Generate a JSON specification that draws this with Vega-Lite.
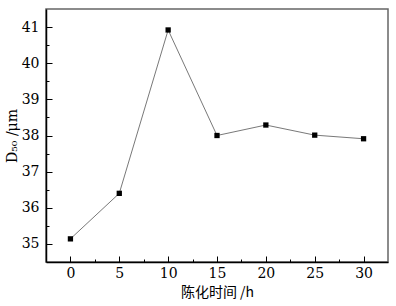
{
  "$schema": "https://vega.github.io/schema/vega-lite/v6.json",
  "width": 342,
  "height": 253,
  "autosize": "none",
  "padding": {"left": 46, "top": 9, "right": 8, "bottom": 44},
  "background": "white",
  "config": {
    "view": {"stroke": "#666", "strokeWidth": 1.5},
    "axis": {"grid": false, "domainColor": "black", "domainWidth": 1.5, "tickColor": "black", "labelColor": "black", "titleColor": "black"}
  },
  "data": {
    "values": [
      {"t": 0, "d": 35.14},
      {"t": 5, "d": 36.4},
      {"t": 10, "d": 40.92},
      {"t": 15, "d": 38.0},
      {"t": 20, "d": 38.29},
      {"t": 25, "d": 38.01},
      {"t": 30, "d": 37.91}
    ]
  },
  "encoding": {
    "x": {
      "field": "t", "type": "quantitative",
      "scale": {"domain": [-2.5, 32.5], "nice": false, "zero": false},
      "axis": {
        "values": [0, 2.5, 5, 7.5, 10, 12.5, 15, 17.5, 20, 22.5, 25, 27.5, 30],
        "labelExpr": "datum.value % 5 === 0 ? format(datum.value, 'd') : ''",
        "labelFont": "DejaVu Serif",
        "labelFontSize": 14,
        "tickSize": {"condition": {"test": "datum.value % 5 === 0", "value": -6}, "value": -3},
        "labelPadding": 10,
        "title": "陈化时间 /h",
        "titleFont": "Noto Sans CJK SC",
        "titleFontSize": 14,
        "titleFontWeight": "normal",
        "titlePadding": 5
      }
    },
    "y": {
      "field": "d", "type": "quantitative",
      "scale": {"domain": [34.5, 41.5], "nice": false, "zero": false},
      "axis": {
        "values": [35, 35.5, 36, 36.5, 37, 37.5, 38, 38.5, 39, 39.5, 40, 40.5, 41],
        "labelExpr": "datum.value % 1 === 0 ? format(datum.value, 'd') : ''",
        "labelFont": "DejaVu Serif",
        "labelFontSize": 14,
        "tickSize": {"condition": {"test": "datum.value % 1 === 0", "value": -6}, "value": -3},
        "labelPadding": 13,
        "title": "D₅₀ /μm",
        "titleFont": "DejaVu Serif",
        "titleFontSize": 14,
        "titleFontWeight": "normal",
        "titlePadding": 2
      }
    }
  },
  "layer": [
    {"mark": {"type": "line", "color": "#555", "strokeWidth": 0.8}},
    {"mark": {"type": "point", "shape": "square", "filled": true, "color": "black", "opacity": 1, "size": 28}}
  ]
}
